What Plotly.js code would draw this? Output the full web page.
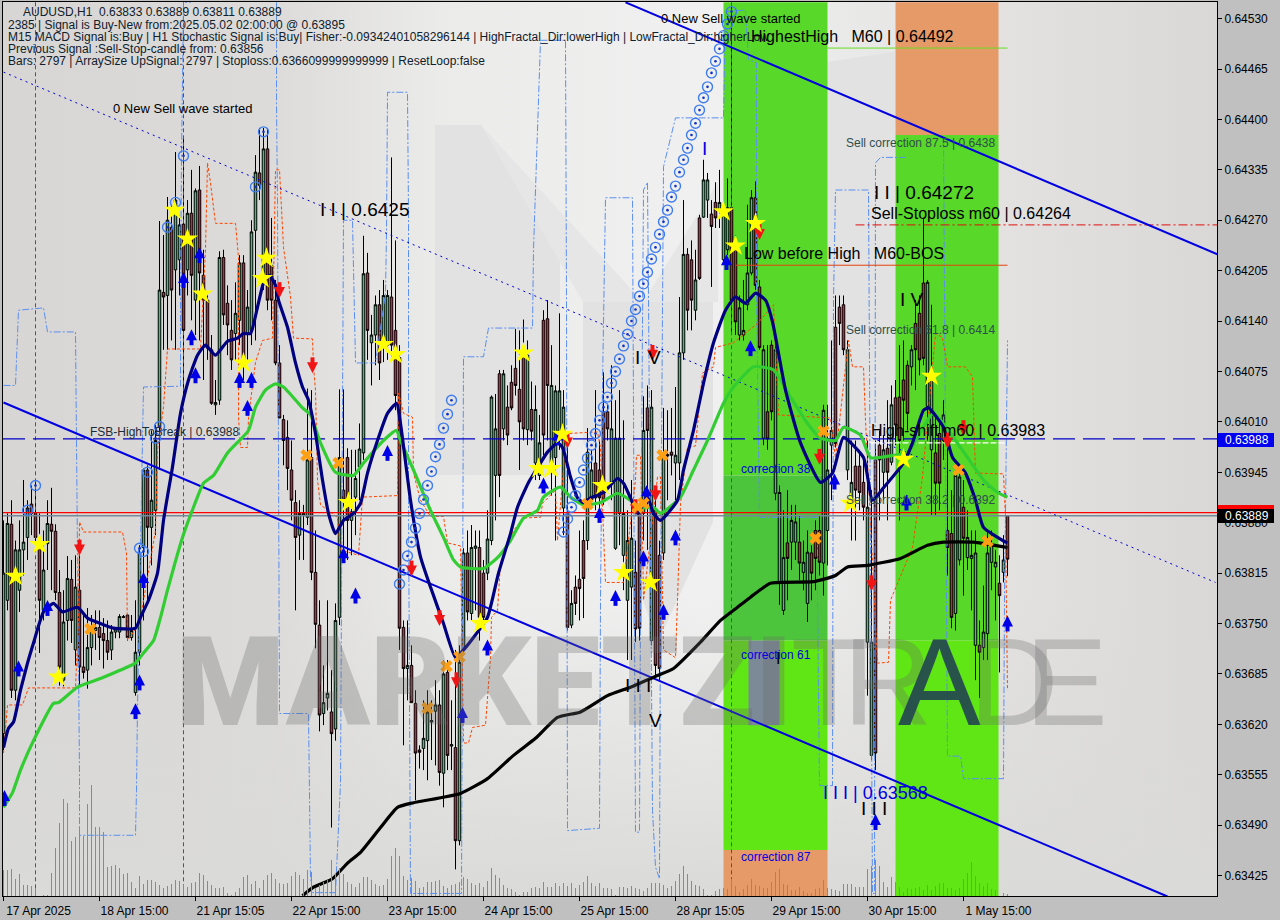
<!DOCTYPE html>
<html>
<head>
<meta charset="utf-8">
<script src="https://cdn.plot.ly/plotly-3.0.1.min.js"></script>
<style>html,body{margin:0;padding:0;background:#c0c0c0}#chart{width:1280px;height:920px}</style>
</head>
<body>
<div id="chart"></div>
<script>
// Candle values in 1e-5 price units
const highs=[63883,63892,63909,63857,63883,63935,63909,63928,63935,63892,63870,63909,63925,63878,63819,63793,63837,63832,63838,63838,
63763,63770,63761,63767,63767,63757,63754,63748,63745,63762,63761,63762,63761,63780,63851,63950,63954,63999,64006,64269,
64251,64300,64290,64358,64277,64376,64296,64335,64311,64340,64232,64173,64122,64064,64230,64232,64186,64167,64190,64225,
64225,64180,64270,64354,64389,64389,64389,64273,64193,64109,64019,64012,63986,63922,63909,63903,64053,64051,63870,63780,
63696,63780,63690,63776,64052,64052,63976,63974,63974,64008,64250,64228,64148,64173,64180,64193,64180,64351,64244,64109,
63754,63754,63722,63664,63593,63651,63664,63651,63677,63664,63703,63703,63651,63716,63722,63847,63870,63877,63870,63870,
63832,63896,64044,64046,64077,64077,64057,64083,64130,64128,64142,64115,64062,64057,64019,64154,64167,64109,64057,64150,
64051,63986,63793,63812,63870,63883,64002,63974,64051,63986,64074,64032,64083,64038,64051,64012,63896,63935,63857,63896,
64043,64057,64051,63909,63857,64028,64025,64028,64055,64171,64296,64234,64244,64232,64277,64348,64331,64296,64319,64335,
64290,64324,64548,64251,64173,64193,64290,64309,64320,64193,64109,64109,64115,64111,63928,63896,63922,63903,63903,63890,
63857,63870,63851,63883,63890,64032,64032,64115,64173,64173,64173,64115,63986,63986,63974,63961,63986,63922,63986,63999,
63993,64038,64057,64064,64109,64115,64089,64109,64167,64173,64273,64193,64161,64019,64012,64038,63977,63922,63954,63948,
63935,63896,63870,63870,63754,63799,63870,63870,63845,63838,63864,63889];
const bodyTops=[63815,63879,63878,63845,63845,63855,63899,63904,63892,63857,63819,63879,63878,63869,63790,63752,63808,63807,63797,63793,
63694,63719,63744,63745,63745,63737,63728,63739,63743,63759,63759,63761,63741,63713,63841,63948,63948,63909,63986,64180,
64177,64270,64261,64296,64264,64265,64279,64279,64308,64309,64199,64167,64103,64035,64222,64222,64163,64128,64150,64215,
64215,64158,64255,64332,64331,64362,64362,64212,64167,64086,64013,63990,63948,63906,63892,63892,63961,63964,63816,63748,
63648,63660,63636,63754,63964,63922,63964,63894,63937,63975,64201,64202,64122,64161,64161,64173,64173,64171,64128,64093,
63745,63696,63696,63647,63587,63602,63636,63625,63645,63645,63685,63687,63594,63590,63700,63841,63841,63848,63850,63848,
63815,63859,64042,64001,64072,64072,64029,64061,64079,64052,64096,64096,64026,64026,63983,64141,64143,64057,64050,64050,
64029,63892,63776,63797,63807,63857,63971,63948,63957,63948,64023,64023,64001,63989,63989,63892,63857,63860,63816,63892,
63999,64028,64029,63896,63838,63967,63968,63971,63967,64099,64226,64226,64219,64193,64273,64322,64322,64278,64293,64293,
64283,64286,64286,64232,64157,64128,64202,64299,64299,64184,64103,64023,64109,64103,63919,63835,63854,63883,63881,63855,
63829,63842,63841,63870,63870,64025,63948,63999,64132,64158,64161,64103,63932,63953,63953,63932,63900,63726,63961,63980,
63974,63976,64032,64041,64042,64064,64083,64103,64137,64150,64189,64190,64070,63970,63995,64019,63870,63866,63941,63939,
63900,63861,63838,63841,63722,63739,63841,63851,63829,63802,63832,63889];
const bodyBottoms=[63608,63780,63664,63664,63793,63845,63861,63892,63861,63780,63767,63853,63869,63790,63694,63677,63754,63754,63716,63694,
63687,63690,63719,63741,63732,63728,63713,63716,63739,63739,63758,63732,63732,63661,63713,63848,63874,63874,63896,64003,
64171,64173,64180,64206,64219,64128,64206,64199,64167,64202,64167,64105,64034,64032,64038,64148,64135,64090,64124,64141,
64090,64124,64128,64257,64315,64193,64167,64167,64086,64015,63986,63950,63909,63861,63864,63890,63887,63816,63749,63632,
63634,63654,63608,63614,63758,63909,63883,63883,63913,63952,63970,64128,64112,64122,64086,64112,64109,64109,64044,63744,
63692,63692,63648,63583,63584,63589,63599,63623,63637,63558,63557,63580,63592,63470,63470,63716,63765,63763,63847,63758,
63758,63815,63857,63941,63941,64001,63993,64028,64057,64010,64001,64000,63998,63957,63941,63993,64057,63957,63964,63995,
63899,63745,63748,63776,63795,63808,63857,63909,63912,63912,63909,64001,63932,63847,63892,63838,63780,63797,63743,63744,
63892,63999,63728,63696,63692,63841,63966,63967,63957,63957,64099,64154,64167,64154,64195,64274,64296,64262,64273,64283,
64219,64232,64167,64139,64122,64122,64161,64202,64186,64106,63989,63988,64023,63918,63802,63767,63834,63855,63855,63828,
63816,63776,63815,63834,63829,63828,63870,63980,63982,64137,64103,63948,63909,63922,63919,63900,63726,63580,63583,63961,
63945,63945,63958,64006,63986,64038,64021,64081,64103,64090,64092,64030,63974,63931,63931,63986,63848,63758,63763,63832,
63860,63835,63834,63722,63713,63719,63737,63829,63823,63786,63816,63833];
const lows=[63587,63767,63654,63651,63765,63812,63832,63864,63851,63712,63754,63819,63793,63780,63670,63669,63728,63725,63696,63670,
63679,63666,63696,63716,63703,63692,63703,63703,63731,63731,63757,63728,63728,63657,63696,63754,63780,63825,63864,63948,
64103,64103,64115,64103,64173,64038,64173,64141,64122,64115,64064,64090,64032,64019,64032,64135,64096,64077,64090,64109,
64064,64090,64109,64115,64296,64180,64154,64141,64083,64015,63954,63922,63883,63767,63832,63832,63877,63806,63718,63611,
63619,63638,63487,63599,63748,63832,63832,63838,63864,63909,63961,64090,64057,64083,64064,64087,64090,64090,64025,63716,
63593,63651,63648,63522,63563,63561,63548,63574,63567,63541,63513,63561,63561,63433,63464,63709,63754,63754,63767,63728,
63748,63806,63851,63883,63913,63986,63980,64025,64044,63948,63986,63980,63986,63935,63935,63967,63986,63915,63857,63974,
63864,63741,63744,63761,63754,63757,63845,63903,63896,63896,63903,63986,63909,63845,63851,63793,63703,63703,63726,63728,
63857,63845,63722,63683,63677,63832,63909,63941,63909,63935,64090,64128,64128,64141,64193,64273,64273,64184,64260,64260,
64216,64225,64122,64122,64115,64115,64154,64199,64180,64103,63980,63974,64012,63909,63774,63761,63780,63819,63832,63806,
63793,63752,63780,63793,63812,63786,63825,63909,63977,64109,64096,63935,63857,63857,63896,63883,63657,63574,63561,63883,
63909,63883,63954,63980,63883,63986,63999,64057,64051,64070,64083,63986,63890,63890,63896,63961,63812,63744,63741,63825,
63786,63819,63767,63677,63654,63703,63703,63793,63754,63687,63803,63811];
const directions=("GGRGG GGRRR GGRRR GGRGR RGGGR RRGGG RRGGG GRGGG RGRGG RGRGR "+
"RRRGG RRRGG RGGGR GRRRR RRRRG GGRRR GGRGG RRGGG GRGGR GGRRR "+
"RGRRR GGGGR GRGRG GRGGR RGGGR GRRRR RGRGG RRGGG GRGRR RGGRR "+
"RRGGG GGGRR GRGRR GRRGG GRRGR GGRRG GGRRG GGGRR GRRGG GRGGR "+
"GGRRR GGGRR RGGRR RGGRR GRGRR RRGRR RGGRR GRRGG RGGGR GGGGR "+
"GRRGR GGRGR RRRRG GGRRG G G").replace(/\s/g,"").split("");
const volumes=[26,26,27,17,22,11,11,10,8,0,1,1,23,48,73,97,93,55,59,68,60,92,111,69,69,64,29,30,31,28,22,23,14,8,20,12,16,16,14,11,8,10,12,16,15,11,9,13,14,23,21,15,11,8,8,9,3,1,4,8,19,21,12,15,8,16,21,23,17,13,12,13,20,24,21,17,26,24,8,11,14,16,36,22,28,22,14,12,9,13,19,19,16,12,10,11,17,40,48,40,20,16,18,15,
8,9,14,14,15,16,10,8,11,12,14,19,17,13,11,13,9,15,28,21,18,11,8,7,4,1,4,4,8,9,8,14,9,9,13,10,13,10,13,8,11,14,20,13,10,13,8,8,7,1,9,9,8,10,8,7,5,8,13,13,13,11,8,10,15,22,30,22,15,11,10,7,1,1,5,7,
8,7,17,10,4,7,11,17,11,10,8,8,14,24,27,12,11,6,6,9,5,3,3,7,8,16,8,7,6,5,12,12,12,9,9,9,27,30,36,30,14,9,19,14,9,4,8,7,8,9,6,11,6,10,13,13,8,8,6,8,17,23,34,20,13,10,13,7,6,0,3,2];

// Moving averages: [bar index], [price]
const fastMaX=[0,1.25,2.5,4.25,6,7.5,10,12.5,14.75,18.5,21,24.25,27.5,33,34.25,36.25,38.5,40,42.25,44.25,46.25,48.5,50.5,53,56,58.5,60,61.75,63.5,65,66.5,68,68.75,71,73,74.75,76.25,78,79.75,81.25,83,85,87.5,89.25,91,93.5,96,98.25,99.25,101.75,104.25,106.75,110,113,115,117.5,121,123.75,126.75,128.5,131.25,134.25,136,138.5,139.75,141.75,143.5,145,146.75,150,153.5,155,156.75,158.5,161,162.5,164.25,168.5,170,172.5,175,177.5,180.5,183,185.5,188,190.5,192.25,195.5,199.25,204.25,207.25,210,215,217.25,220,225,227.25,230,231.25,235,237.25,240.5,243,245,250.5,251];
const fastMaY=[63590,63615,63623,63664,63699,63725,63765,63776,63765,63771,63757,63750,63744,63744,63758,63780,63815,63883,63952,64021,64064,64096,64109,64096,64114,64118,64124,64124,64158,64189,64199,64186,64167,64132,64086,64055,64038,63995,63935,63892,63866,63883,63892,63905,63944,63986,64021,64034,64008,63909,63836,63797,63750,63706,63716,63732,63758,63815,63866,63900,63932,63957,63971,63983,63977,63939,63912,63906,63912,63919,63937,63931,63912,63892,63913,63892,63883,63909,63948,63999,64060,64112,64154,64171,64163,64176,64167,64139,64051,63983,63932,63944,63990,63964,63909,63925,63957,63983,64025,64028,64003,63964,63944,63909,63874,63855,63854];
const midMaX=[0,2.25,4.25,7.5,12.5,13.75,18.5,24.25,29.25,33,35,37.5,39.25,41,44.75,47.5,50,52.5,56,61.25,63,65.5,68,70,74.75,76.75,79.25,83,87.5,90,95,98.25,99.25,102.5,106.75,110,112.5,114.25,120,123.5,126.75,130,133.5,135,139.25,141.75,145,149.25,153.5,156.75,159.25,162.5,164.25,169.25,172.5,176,180,182.5,187.5,192.5,196.75,201,204.25,208,210,214.25,216.75,222.5,226,232.5,239.25,245,248.5,251];
const midMaY=[63513,63532,63561,63599,63647,63648,63668,63679,63690,63699,63712,63728,63758,63793,63861,63900,63931,63941,63970,63999,64029,64051,64059,64055,64028,64019,63983,63945,63941,63957,63986,63999,63986,63948,63896,63861,63832,63823,63821,63835,63857,63886,63896,63913,63926,63913,63903,63906,63918,63909,63899,63900,63892,63913,63948,63986,64034,64055,64081,64077,64042,64008,63989,63986,64003,63993,63964,63967,63970,64021,63977,63935,63919,63913];
const slowMaX=[74.75,77.5,82.25,86,89.25,94.25,98.5,102.5,114.25,121,127.5,133,138.5,144.25,151,156.75,163.5,167.5,174.25,179.25,183.5,186.75,191.75,202.5,208,211,216,224.25,231,235,242.5,251];
const slowMaY=[63399,63410,63421,63441,63455,63487,63513,63519,63531,63550,63580,63602,63629,63636,63657,63668,63683,63692,63726,63754,63771,63784,63802,63804,63812,63823,63825,63834,63851,63855,63855,63848];

// Channel and trend lines: two end points each
const lowerChannelX=[0,291], lowerChannelY=[64035,63398];
const upperChannelX=[155.5,303.5], upperChannelY=[64551,64226];
const dottedTrendX=[0,303], dottedTrendY=[64461,63803];

// Stepped envelopes
const blueEnvX=[0,3,3.75,10,11,18,19,19,33,33.25,33.5,35,44.25,44.25,44.5,45,46.75,null,68.25,68.25,68.5,68.75,69,76.25,76.75,77.25,83,84.25,84.75,85,87.25,88,93,95.5,95.75,96,101,101.25,101.25,101.75,101.75,114.5,114.75,115,120,121.25,132.25,132.5,134.25,140.5,140.75,141,141,149,149.25,149.75,150.5,157.25,158,158,159,159.25,160,161,161.25,162.25,163,164,164.25,164.75,165,168,180,180.5,185.5,186.25,188.25,188.25,189,203.5,203.5,204,207.25,207.5,208,216.25,216.75,217.25,217.75,218,219.25,225.5,null,235,235.5,236,239.25,240,250,250.25,251];
const blueEnvY=[64057,64057,64154,64157,64126,64126,63557,63477,63477,63535,63642,64055,64056,64167,64348,64551,64551,null,64551,64419,64296,63970,63634,63634,63423,63403,63403,63544,64064,64270,64270,64086,64086,64176,64253,64435,64435,64279,63909,63522,63402,63402,63780,64094,64094,64131,64131,64232,64502,64502,64167,63616,63483,63486,63780,64055,64299,64299,63583,63481,63481,63780,64309,64319,64167,63509,63436,63421,63780,64167,64339,64402,64402,64539,64541,64477,64473,64180,63887,63887,63780,63541,63541,64167,64309,64309,63780,63402,63402,64344,64351,64351,null,64377,63957,63579,63579,63550,63550,63780,64115];
const orangeEnvX=[0,.75,1,4.75,6.25,18,18.5,18.75,19,20,29.75,30.75,31,34,37.25,38,38.5,40,41,49.25,50.5,51,51.75,53,58,58.75,58.75,59.25,61,61.25,63,64.75,67.25,68,69,70,71.75,72.5,77.25,77.5,78,78.5,79.25,83.5,84.25,88.75,89.75,98.5,98.75,100,102.25,102.5,104.25,106.75,110,111,114.25,115,116.25,117.25,120.5,121.75,122,123.5,124.25,127.5,130,134.25,134.75,138,138.5,140.75,148.5,149.25,150,150.5,155,158,158.25,159.25,159.75,160,163.5,164.25,165,168,168.5,169.25,171,173,174.75,177.5,178,182.5,188.5,192.5,193.75,206.75,208,211.25,212.25,215,215.5,218.5,221.25,221.75,227.25,229.75,233,234.75,236,240.5,242.25,243,250,250.5,250.75,251];
const orangeEnvY=[63583,63629,63645,63645,63667,63667,63716,63758,63881,63868,63868,63841,63728,63750,63847,63870,63974,64029,64104,64104,64232,64344,64318,64266,64266,64222,64016,63977,63977,64016,64087,64115,64118,64335,64335,64235,64171,64118,64117,64081,64051,63935,63903,63887,63845,63838,63913,63915,64047,64021,64016,63944,63909,63888,63888,63854,63850,63596,63596,63616,63619,63706,63758,63767,63828,63870,63886,63887,63905,63922,63857,63995,63997,63977,63866,63803,63803,63935,63967,63967,63866,63780,63939,63939,63716,63706,63780,63905,63977,63979,64073,64081,64106,64112,64137,64161,64019,64015,63964,64115,64081,64081,64012,63699,63700,63780,63848,63939,64124,64119,64081,64081,64068,63944,63943,63887,63767,63664];

// Signal markers
const buyArrowX=[.25,3.75,11,33,34,35,45,49,47,48,59,62,61,85,88,96,114.75,121,135,138.5,149,153,160.75,160,165,168,180.75,186.75,207.75,218,225.75,251];
const buyArrowY=[63525,63692,63770,63637,63674,63806,64193,64225,64119,64070,64064,64064,64028,63838,63786,63970,63632,63719,63928,63990,63890,63783,63918,63834,63765,63861,64216,64105,63933,63494,63906,63750];
const sellArrowX=[19,69,77.25,102,109,113.25,141,158,162.25,163,189,204,217,236,240];
const sellArrowY=[63848,64180,64083,63821,63757,63677,63986,63900,64099,63918,64255,63965,63802,63986,64002];
const starX=[3,9,13.75,42.75,46,49.75,60,64.75,65.75,86.25,95,98,119.25,130,133.75,137,139.75,149.75,155,161.75,180,183,188,211.75,225,232];
const starY=[63811,63852,63681,64283,64246,64175,64086,64195,64221,63906,64110,64097,63750,64099,63950,63950,63994,63928,63816,63803,64281,64237,64266,63905,63962,64069];
const crossX=[21.75,75.75,83.75,106,110.75,114,146,158.5,160,164.75,203,205,238.75,246];
const crossY=[63743,63967,63957,63641,63695,63707,63904,63900,63905,63967,63860,63998,63948,63856];
const ringX=[6,8,34,35,36,38,39,41,43,45,63,65,99,100,101,102,103,104,105,106,107,108,109,110,111,112,140,141,142,143,144,145,146,147,148,149,150,151,152,153,154,155,156,157,158,159,160,161,162,163,164,165,166,167,168,169,170,171,172,173,174,175,176,177,178,179,180,181,182];
const ringY=[63896,63928,63847,63843,63945,63989,64004,64261,64293,64353,64313,64384,63801,63819,63837,63855,63873,63892,63910,63928,63946,63965,63981,64002,64020,64038,63868,63885,63900,63915,63932,63948,63963,63980,63995,64012,64029,64042,64060,64075,64091,64108,64123,64140,64155,64172,64188,64203,64220,64235,64252,64268,64283,64300,64314,64332,64348,64363,64380,64395,64412,64428,64442,64460,64475,64491,64508,64523,64539];

// Price levels
const redLevel=63893, bidLevel=63889, breakLevel=63988, shiftLevel=63983, stopLevel=64264, highestLevel=64492, bosLevel=64212;
const sessionBars=[8,45,182];

// Zones: start bar, end bar, upper price, lower price, colour
const zoneBars=[[180,206],[223,248.75]];
const zoneBandsA=[[64551,63941,"#58d828"],[63941,63728,"#4cc43c"],[63728,63458,"#60e614"],[63458,63398,"#e59a68"]];
const zoneBandsB=[[64551,64380,"#e59a68"],[64380,63728,"#58d828"],[63728,63398,"#60e614"]];

// Axis labels
const priceTicks=[64530,64465,64400,64335,64270,64205,64140,64075,64010,63945,63880,63815,63750,63685,63620,63555,63490,63425];
const timeTickBars=[0,24,48,72,96,120,144,168,192,216,240];
const timeTickLabels=["17 Apr 2025","18 Apr 15:00","21 Apr 15:05","22 Apr 15:00","23 Apr 15:00","24 Apr 15:00","25 Apr 15:00","28 Apr 15:05","29 Apr 15:00","30 Apr 15:00","1 May 15:00"];

const P=v=>v==null?null:v/1e5;
const PS=a=>a.map(P);
const bars=highs.map((_,i)=>i);
const opens=bars.map(i=>directions[i]==="G"?bodyBottoms[i]:bodyTops[i]);
const closes=bars.map(i=>directions[i]==="G"?bodyTops[i]:bodyBottoms[i]);
const W=1280,H=920,ML=3,MR=63,MT=2,MB=24,PW=W-ML-MR,PH=H-MT-MB;
const XMIN=-0.125,XMAX=303.375,YMAX=0.645514,YMIN=0.633987;
const PT_PER_PX=(YMAX-YMIN)*1e5/PH;
const line=(x,y,color,width,dash,smooth)=>({type:"scatter",mode:"lines",x:x,y:PS(y),line:Object.assign({color:color,width:width,dash:dash||"solid"},smooth?{shape:"spline",smoothing:0.5}:{}),hoverinfo:"skip",showlegend:false,connectgaps:false});
const mark=(x,y,sym,size,color,extra)=>({type:"scatter",mode:"markers",x:x,y:PS(y),marker:Object.assign({symbol:sym,size:size,color:color,line:{width:0}},extra||{}),hoverinfo:"skip",showlegend:false});
const vLineX=[],vLineY=[];
sessionBars.forEach(b=>{vLineX.push(b,b,null);vLineY.push(64551,63398,null);});
const offset=(arr,px)=>arr.map(v=>v+px*PT_PER_PX);
const volX=[],volY=[];
bars.forEach(i=>{volX.push(i,i,null);volY.push(0,volumes[i],null);});

const traces=[
 {type:"scatter",mode:"lines",x:volX,y:volY,yaxis:"y2",line:{color:"#46bb40",width:1},hoverinfo:"skip",showlegend:false,connectgaps:false},
 {type:"candlestick",x:bars,open:PS(opens),high:PS(highs),low:PS(lows),close:PS(closes),whiskerwidth:0,hoverinfo:"skip",showlegend:false,
  increasing:{line:{color:"#000",width:1},fillcolor:"#3cc47c"},decreasing:{line:{color:"#000",width:1},fillcolor:"#c82440"}},
 line(vLineX,vLineY,"#c0187a",1,"4px,3px"),
 line(blueEnvX,blueEnvY,"#5b8ff0",1,"7px,2px,2px,2px"),
 line(orangeEnvX,orangeEnvY,"#ff4500",1,"3px,2px"),
 line([XMIN,XMAX],[redLevel,redLevel],"#ff0000",1.3),
 line([XMIN,XMAX],[bidLevel,bidLevel],"#778899",1.3),
 line([XMIN,XMAX],[breakLevel,breakLevel],"#0000c8",1.2,"22px,8px"),
 line([216.75,250.5],[shiftLevel,shiftLevel],"#ffffff",1.2,"6px,2px"),
 line([213,XMAX],[stopLevel,stopLevel],"#e01010",1,"9px,3px,2px,3px"),
 line([206,251],[highestLevel,highestLevel],"#66dd22",1),
 line([183,251],[bosLevel,bosLevel],"#e84010",1),
 line(dottedTrendX,dottedTrendY,"#0000e0",1,"2px,4px"),
 line(lowerChannelX,lowerChannelY,"#0000e0",2),
 line(upperChannelX,upperChannelY,"#0000e0",2),
 line(slowMaX,slowMaY,"#000000",3.2,null,true),
 line(midMaX,midMaY,"#32cd32",3.2,null,true),
 line(fastMaX,fastMaY,"#000080",3.2,null,true),
 mark(ringX,ringY,"circle-open",10,"#3f7cf0",{line:{width:1.4,color:"#3f7cf0"}}),
 mark(ringX,ringY,"circle",2.6,"#1030c0"),
 mark(buyArrowX,offset(buyArrowY,8),"arrow-up",11,"#0000e6"),
 mark(buyArrowX,offset(buyArrowY,-3),"line-ns",7,"#0000e6",{line:{width:4,color:"#0000e6"}}),
 mark(sellArrowX,offset(sellArrowY,-8),"arrow-down",11,"#f01414"),
 mark(sellArrowX,offset(sellArrowY,3),"line-ns",7,"#f01414",{line:{width:4,color:"#f01414"}}),
 mark(starX,starY,"star",16,"#ffff00"),
 mark(crossX,crossY,"x",11,"#ffa014")
];

const shapes=[];
zoneBandsA.forEach(b=>shapes.push({type:"rect",layer:"below",xref:"x",yref:"y",x0:zoneBars[0][0],x1:zoneBars[0][1],y0:P(b[0]),y1:P(b[1]),fillcolor:b[2],line:{width:0}}));
zoneBandsB.forEach(b=>shapes.push({type:"rect",layer:"below",xref:"x",yref:"y",x0:zoneBars[1][0],x1:zoneBars[1][1],y0:P(b[0]),y1:P(b[1]),fillcolor:b[2],line:{width:0}}));
shapes.push({type:"rect",layer:"below",xref:"x",yref:"y",x0:186.25,x1:194,y0:P(63728),y1:P(63619),fillcolor:"#7b8a96",line:{width:0}});
const paperBox=(x0,y0,x1,y1,c)=>({type:"rect",layer:"above",xref:"paper",yref:"paper",x0:(x0-ML)/PW,x1:(x1-ML)/PW,y0:1-(y0-MT)/PH,y1:1-(y1-MT)/PH,fillcolor:c,line:{width:0}});
shapes.push(paperBox(1218,505,1274,512,"#ff0000"),paperBox(1218,509,1274,523,"#000000"),paperBox(1218,433,1274,447,"#0000f0"));

const FONT="Liberation Sans, Arial, sans-serif";
const note=(px,py,text,size,color,opt)=>Object.assign({xref:"paper",yref:"paper",x:(px-ML)/PW,y:1-(py-MT)/PH,xanchor:"left",yanchor:"middle",text:text,showarrow:false,font:{family:FONT,size:size,color:color||"#000"},borderpad:0},opt||{});
const WM="rgba(105,105,105,0.3)";
const wmBold=note(175,682,"MARKETZI",124,WM);
wmBold.font.family="Roboto, Liberation Sans, sans-serif";
wmBold.font.weight=900;
const annotations=[
 wmBold,
 note(790,682,"T",124,WM),note(842,682,"R",124,WM),note(897,682,"A",124,"rgba(35,70,80,0.92)"),note(968,682,"D",124,WM),note(1024,682,"E",124,WM),
 note(22,12,"AUDUSD,H1  0.63833 0.63889 0.63811 0.63889",12,"#10202c"),
 note(7,25,"2385 | Signal is Buy-New from:2025.05.02 02:00:00 @ 0.63895",12,"#10202c"),
 note(7,37,"M15 MACD Signal is:Buy | H1 Stochastic Signal is:Buy| Fisher:-0.09342401058296144 | HighFractal_Dir:lowerHigh | LowFractal_Dir:higherLow",12,"#10202c"),
 note(7,49,"Previous Signal :Sell-Stop-candle from: 0.63856",12,"#10202c"),
 note(7,61,"Bars: 2797 | ArraySize UpSignal: 2797 | Stoploss:0.6366099999999999 | ResetLoop:false",12,"#10202c"),
 note(112,108,"0 New Sell wave started",13),
 note(660,18,"0 New Sell wave started",13),
 note(319,210,"I I | 0.6425",19),
 note(89,432,"FSB-HighToBreak | 0.63988",12,"#1c2c38"),
 note(750,36,"HighestHigh   M60 | 0.64492",16),
 note(845,143,"Sell correction 87.5 | 0.6438",12,"#2f4f4f"),
 note(873,192,"I I | 0.64272",19),
 note(870,213,"Sell-Stoploss m60 | 0.64264",16),
 note(743,253,"Low before High   M60-BOS",16),
 note(899,300,"I V",19),
 note(845,330,"Sell correction 61.8 | 0.6414",12,"#2f4f4f"),
 note(870,431,"High-shift m60 | 0.63983",16),
 note(740,469,"correction 38",12,"#0000e0"),
 note(845,500,"Sell correction 38.2 | 0.6392",12,"#2f4f4f"),
 note(740,655,"correction 61",12,"#0000e0"),
 note(740,857,"correction 87",12,"#0000e0"),
 note(822,793,"I I I | 0.63568",18,"#0000e0"),
 note(701,148,"I",19,"#0000e0"),
 note(634,357,"I",19),note(647,357,"V",19),
 note(624,685,"I I I",19),note(648,720,"V",19),note(775,658,"I",16),
 note(860,808,"I I I",19),
 note(1224,440,"0.63988",12,"#ffffff"),
 note(1224,516,"0.63889",12,"#ffffff")
];

const bg=`<svg xmlns="http://www.w3.org/2000/svg" width="1214" height="894" preserveAspectRatio="none" viewBox="0 0 1214 894">
<defs><linearGradient id="g" x1="0" y1="0" x2="1" y2="0"><stop offset="0" stop-color="#d7d6d4"/><stop offset=".22" stop-color="#dcdbd9"/><stop offset=".36" stop-color="#ebebea"/><stop offset=".58" stop-color="#f0f0f0"/><stop offset=".8" stop-color="#e4e3e2"/><stop offset="1" stop-color="#dad8d6"/></linearGradient>
<linearGradient id="b" x1="0" y1="0" x2="0" y2="1"><stop offset="0" stop-color="#dadad8" stop-opacity="0"/><stop offset="1" stop-color="#dadad8" stop-opacity="1"/></linearGradient></defs>
<rect width="1214" height="894" fill="url(#g)"/>
<rect y="600" width="1214" height="294" fill="url(#b)"/>
<polygon points="432,123 478,123 557,230 557,473 432,473" fill="#e2e2e2"/>
<polygon points="478,123 640,300 715,180 715,300 580,300" fill="#e6e6e6"/>
<polygon points="580,300 710,300 710,520 655,640 597,480 580,440" fill="#e2e2e2"/>
<polygon points="824,60 892,50 892,470 824,470" fill="#e2e2e2"/>
</svg>`;

const layout={
 width:W,height:H,autosize:false,
 margin:{l:ML,r:MR,t:MT,b:MB,pad:0},
 paper_bgcolor:"#c0c0c0",plot_bgcolor:"#e0e0de",
 showlegend:false,boxgap:0.1,dragmode:false,
 font:{family:FONT,size:12,color:"#000"},
 xaxis:{type:"linear",range:[XMIN,XMAX],rangeslider:{visible:false},showgrid:false,zeroline:false,showline:true,mirror:true,linecolor:"#000",linewidth:1,
  tickmode:"array",tickvals:timeTickBars,ticktext:timeTickLabels,ticks:"outside",ticklen:4,tickcolor:"#000",ticklabelshift:35,tickfont:{family:FONT,size:12,color:"#000"},ticklabelstandoff:0},
 yaxis:{side:"right",range:[YMIN,YMAX],showgrid:false,zeroline:false,showline:true,mirror:true,linecolor:"#000",linewidth:1,
  tickmode:"array",tickvals:PS(priceTicks),ticktext:priceTicks.map(v=>(v/1e5).toFixed(5)),ticks:"outside",ticklen:4,tickcolor:"#000",tickfont:{family:FONT,size:12,color:"#000"}},
 yaxis2:{overlaying:"y",side:"left",range:[0,894],visible:false,fixedrange:true},
 shapes:shapes,annotations:annotations,
 images:[{source:"data:image/svg+xml;charset=utf-8,"+encodeURIComponent(bg),xref:"paper",yref:"paper",x:0,y:1,sizex:1,sizey:1,sizing:"stretch",layer:"below",xanchor:"left",yanchor:"top"}]
};
Plotly.newPlot("chart",traces,layout,{staticPlot:true,displayModeBar:false});
</script>
</body>
</html>
